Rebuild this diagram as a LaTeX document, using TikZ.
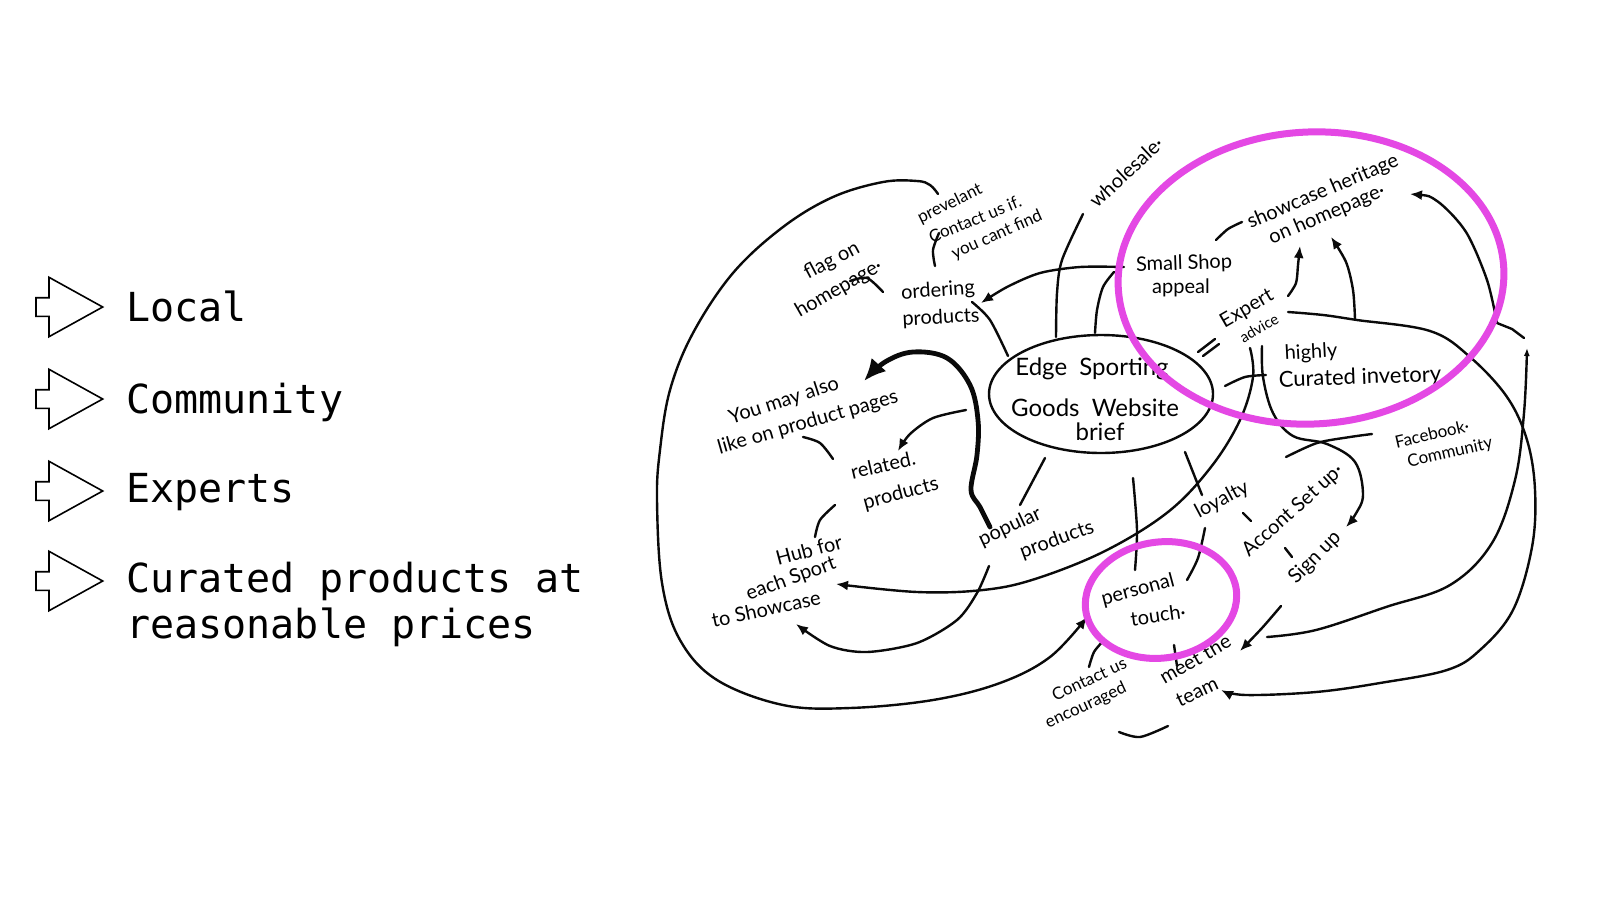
\documentclass[tikz,border=0pt]{standalone}
\usepackage{fontspec}
\setmainfont{Lato}
\newfontfamily\monofont{DejaVu Sans Mono}
\newfontfamily\hand{Lato}
\usetikzlibrary{arrows.meta,shapes.geometric}
\definecolor{mag}{RGB}{228,72,228}
\definecolor{inkc}{RGB}{10,10,10}
\tikzset{
  ink/.style={draw=inkc, line width=1.2pt, line cap=round, line join=round},
  thickink/.style={draw=inkc, line width=2.4pt, line cap=round, line join=round},
  arr/.style={-{Latex[length=6pt,width=5pt]}},
  bigarr/.style={-{Latex[length=11pt,width=10pt]}},
  icon/.style={draw=black, line width=0.8pt, line join=miter},
  listtxt/.style={font=\monofont\fontsize{20}{23}\selectfont, inner sep=0pt, anchor=base west},
  hw/.style={font=\hand\fontsize{10}{12}\selectfont, inner sep=0pt},
  hwL/.style={font=\hand\fontsize{12}{14}\selectfont, inner sep=0pt},
  hwM/.style={font=\hand\fontsize{11}{13}\selectfont, inner sep=0pt},
  hwS/.style={font=\hand\fontsize{8.5}{10}\selectfont, inner sep=0pt},
  hwXS/.style={font=\hand\fontsize{7.5}{9}\selectfont, inner sep=0pt},
  ring/.style={draw=mag, line width=3.5pt, ellipse, inner sep=0pt},
  bullet/.pic={\draw[icon] (0,-29.7) -- (53.7,0) -- (0,29.7) -- (0,9.3) -- (-13,9.3) -- (-13,-9.3) -- (0,-9.3) -- cycle;}
}
\begin{document}
\begin{tikzpicture}[x=0.5pt,y=-0.5pt]
\useasboundingbox[fill=white] (0,0) rectangle (1600,900);

% ---------- left list ----------
\pic at (49,307) {bullet};
\pic at (49,399) {bullet};
\pic at (49,491) {bullet};
\pic at (49,581) {bullet};
\node[listtxt] (t1) at (126,321) {Local};
\node[listtxt] (t2) at (126,413) {Community};
\node[listtxt] (t3) at (126,502) {Experts};
\node[listtxt] (t4a) at (126,592) {Curated products at};
\node[listtxt] (t4b) at (126,638) {reasonable prices};

% ---------- central ellipse ----------
\node[ellipse, ink, minimum width=112pt, minimum height=59pt, inner sep=0pt] (core) at (1101,394) {};
\node[hwL] (e1) at (1092,369) {Edge\ \ Sporting};
\node[hwL] (e2) at (1095,408) {Goods\ \ Website};
\node[hwL] (e3) at (1100,432) {brief};

% ---------- labels ----------
\node[hwS, rotate=26] (prev1) at (950,204) {prevelant};
\node[hwS, rotate=22] (prev2) at (975,219) {Contact us if.};
\node[hwS, rotate=24] (prev3) at (997,235) {you cant find};
\node[hw, rotate=28] (flag1) at (832,261) {flag on};
\node[hw, rotate=30] (flag2) at (839,289) {homepage·};
\node[hw, rotate=4] (ord1) at (938,291) {ordering};
\node[hw, rotate=3] (ord2) at (941,318) {products};
\node[hw, rotate=43] (whole) at (1126,172) {wholesale·};
\node[hw, rotate=18] (you1) at (784,401) {You may also};
\node[hw, rotate=16] (you2) at (808,423) {like on product pages};
\node[hw, rotate=13] (rel1) at (883,465) {related.};
\node[hw, rotate=15] (rel2) at (901,494) {products};
\node[hw, rotate=15] (hub1) at (809,550) {Hub for};
\node[hw, rotate=20] (hub2) at (791,579) {each Sport};
\node[hw, rotate=12] (hub3) at (766,609) {to Showcase};
\node[hw, rotate=25] (pop1) at (1010,527) {popular};
\node[hw, rotate=20] (pop2) at (1057,540) {products};
\node[hw, rotate=15] (pers1) at (1138,590) {personal};
\node[hw, rotate=8] (pers2) at (1158,615) {touch·};
\node[hwS, rotate=25] (con1) at (1089,679) {Contact us};
\node[hwS, rotate=25] (con2) at (1086,706) {encouraged};
\node[hw, rotate=30] (meet1) at (1195,659) {meet the};
\node[hw, rotate=25] (meet2) at (1197,692) {team};
\node[hw, rotate=28] (loy) at (1222,500) {loyalty};
\node[hw, rotate=42] (acc) at (1293,511) {Accont Set up·};
\node[hw, rotate=45] (sign) at (1315,558) {Sign up};
\node[hwS, rotate=13] (fb1) at (1432,434) {Facebook·};
\node[hwS, rotate=13] (fb2) at (1450,453) {Community};
\node[hw, rotate=3] (hi1) at (1311,353) {highly};
\node[hwM, rotate=2] (hi2) at (1360,378) {Curated invetory};
\node[hw, rotate=30] (exp1) at (1247,309) {Expert};
\node[hwXS, rotate=30] (exp2) at (1259,328) {advice};
\node[hw, rotate=2] (sm1) at (1184,264) {Small Shop};
\node[hw] (sm2) at (1181,288) {appeal};
\node[hw, rotate=23] (sh1) at (1323,192) {showcase heritage};
\node[hw, rotate=23] (sh2) at (1327,215) {on homepage·};

% ---------- connectors ----------
% big outer loop to personal touch
\draw[ink, arr] plot[smooth, tension=0.6] coordinates {(938,194) (930,185) (917,181) (883,182) (833,197) (783,227) (733,273) (693,333) (670,390) (660,450) (657,500) (662,583) (680,640) (717,680) (783,705) (850,708) (933,700) (1000,683) (1050,657) (1087,617)};
% flag on homepage
\draw[ink] plot[smooth] coordinates {(850,281) (867,278) (883,292)};
% ordering -> prevelant
\draw[ink] plot[smooth] coordinates {(935,266) (933,250) (939,233)};
% small shop -> ordering
\draw[ink, arr] plot[smooth] coordinates {(1124,267) (1080,267) (1040,273) (1007,287) (981,303)};
% ordering -> core
\draw[ink] plot[smooth] coordinates {(972,302) (990,320) (1008,356)};
% core -> wholesale
\draw[ink] plot[smooth] coordinates {(1056,337) (1057,293) (1062,260) (1083,214)};
% core -> small shop
\draw[ink] plot[smooth] coordinates {(1095,333) (1097,310) (1103,287) (1114,272)};
% thick arrow popular -> you may also like
\draw[thickink, bigarr] plot[smooth, tension=0.6] coordinates {(990,527) (980,507) (971,490) (977,455) (978,420) (970,385) (947,358) (913,352) (885,362) (864,381)};
% core -> related
\draw[ink, arr] plot[smooth] coordinates {(966,410) (933,418) (910,434) (898,451)};
% like -> related
\draw[ink] plot[smooth] coordinates {(803,437) (820,443) (833,459)};
% related -> hub
\draw[ink] plot[smooth] coordinates {(835,505) (820,520) (815,537)};
% popular -> hub
\draw[ink, arr] plot[smooth] coordinates {(989,566) (977,593) (957,620) (917,643) (867,652) (830,646) (796,624)};
% expert -> hub (long)
\draw[ink, arr] plot[smooth, tension=0.6] coordinates {(1250,348) (1253,377) (1240,420) (1211,467) (1168,512) (1105,551) (1035,579) (983,590) (917,592) (836,584)};
% core -> popular
\draw[ink] (1045,458) -- (1020,505);
% core -> personal
\draw[ink] plot[smooth] coordinates {(1133,478) (1137,530) (1135,570)};
% core -> loyalty
\draw[ink] (1185,452) -- (1202,495);
% loyalty -> personal
\draw[ink] plot[smooth] coordinates {(1205,528) (1198,558) (1187,580)};
% small ticks
\draw[ink] (1243,513) -- (1251,521);
\draw[ink] (1285,548) -- (1292,557);
% sign up -> meet the team
\draw[ink, arr] plot[smooth] coordinates {(1281,606) (1262,628) (1240,651)};
% personal -> contact
\draw[ink] plot[smooth] coordinates {(1104,640) (1094,652) (1089,667)};
% personal -> meet
\draw[ink] (1174,645) -- (1177,666);
% underline contact / team
\draw[ink] plot[smooth] coordinates {(1119,732) (1140,737) (1168,726)};
% heritage arrow line
\draw[ink, {Latex[length=6pt,width=5pt]}-] plot[smooth] coordinates {(1410,194) (1437,201) (1466,232) (1487,280) (1497,323)};
\draw[ink] (1497,323) -- (1512,329) -- (1524,338);
\draw[ink, -{Latex[length=4pt,width=3pt]}] plot[smooth, tension=0.6] coordinates {(1267,637) (1316,630) (1386,607) (1450,585) (1492,543) (1515,480) (1524,413) (1527,348)};
% expert -> team (outer)
\draw[ink, arr] plot[smooth, tension=0.6] coordinates {(1288,312) (1323,315) (1357,320) (1430,331) (1470,357) (1507,397) (1527,440) (1535,490) (1532,547) (1513,610) (1480,650) (1447,670) (1380,683) (1316,692) (1246,695) (1221,690)};
% branch up to showcase
\draw[ink, arr] plot[smooth] coordinates {(1355,319) (1353,290) (1346,262) (1331,237)};
% expert -> on homepage
\draw[ink, arr] plot[smooth] coordinates {(1288,296) (1296,283) (1298,265) (1300,246)};
% small shop -> showcase
\draw[ink] plot[smooth] coordinates {(1216,240) (1228,229) (1242,222)};
% core -> expert (double stroke)
\draw[ink] (1198,352) -- (1215,339);
\draw[ink] (1203,356) -- (1219,344);
% expert -> sign up
\draw[ink, arr] plot[smooth, tension=0.6] coordinates {(1262,346) (1263,377) (1273,413) (1293,436) (1327,444) (1355,462) (1363,495) (1355,515) (1346,527)};
% core -> curated
\draw[ink] plot[smooth] coordinates {(1225,386) (1245,377) (1266,375)};
% facebook
\draw[ink] plot[smooth] coordinates {(1372,434) (1350,437) (1317,443) (1286,457)};

% ---------- magenta rings ----------
\node[ring, minimum width=193pt, minimum height=146pt, rotate=3] (ring1) at (1311,278) {};
\node[ring, minimum width=76pt, minimum height=58pt, rotate=8] (ring2) at (1161,600) {};
\end{tikzpicture}
\end{document}
